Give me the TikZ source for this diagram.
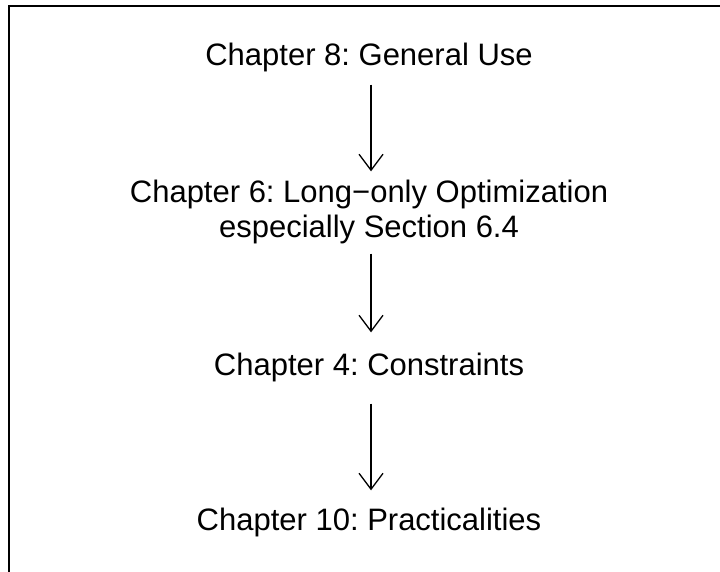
\documentclass[tikz,border=0pt]{standalone}
\usepackage{fontspec}
\setmainfont{Liberation Sans}
\frenchspacing
\usetikzlibrary{arrows.meta}
\begin{document}
\begin{tikzpicture}[x=1pt,y=1pt,
  lbl/.style={inner sep=0pt,anchor=base,align=center,font=\fontsize{31}{35}\selectfont},
  arr/.style={line width=1.3pt,-{Straight Barb[length=16pt,width=24pt,line width=1.3pt]}}]
\useasboundingbox (0,0) rectangle (720,571);
\draw[line width=2pt] (9,-5) -- (9,565) -- (725,565);
\node[lbl] (n1) at (369,505) {Chapter 8: General Use};
\node[lbl] (n2) at (369,333) {Chapter 6: Long\textminus only Optimization\\especially Section 6.4};
\node[lbl] (n3) at (369,196) {Chapter 4: Constraints};
\node[lbl] (n4) at (369,41) {Chapter 10: Practicalities};
\coordinate (ax) at (371,0);
\draw[arr, shorten <=12pt, shorten >=9pt] (n1.south -| ax) -- (n2.north -| ax);
\draw[arr, shorten <=9pt, shorten >=20pt] (n2.south -| ax) -- (n3.north -| ax);
\draw[arr, shorten <=22pt, shorten >=17pt] (n3.south -| ax) -- (n4.north -| ax);
\end{tikzpicture}
\end{document}
